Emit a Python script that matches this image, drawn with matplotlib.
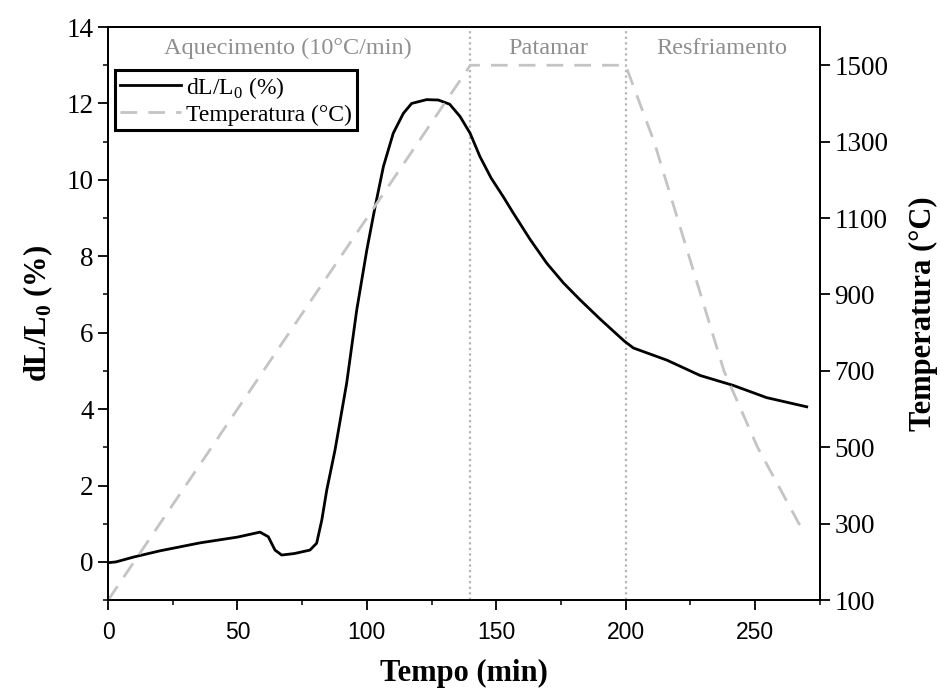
import numpy as np
import matplotlib
matplotlib.use("Agg")
from matplotlib import pyplot as plt
from matplotlib.ticker import MultipleLocator

plt.rcParams['font.family'] = ['Liberation Serif', 'DejaVu Serif']

# dilatometry curve
time_dl = [0, 3, 10, 20, 35.6, 50, 58.7, 61.9, 64.5, 67.1, 72, 78, 80.6, 82.6, 84.5,
           87.7, 92.2, 96.1, 100, 103.2, 106.4, 110.2, 114.1, 117.3, 123.1, 127.6,
           132, 136, 139.9, 143.7, 148, 152.7, 156.6, 163, 169.5, 176, 182.4, 190.1,
           199.5, 203, 216, 228.8, 241.6, 254.5, 270]
dl = [-0.02, 0.0, 0.13, 0.29, 0.5, 0.65, 0.78, 0.66, 0.31, 0.18, 0.22, 0.31, 0.49, 1.1, 1.88,
      2.93, 4.68, 6.6, 8.17, 9.3, 10.35, 11.22, 11.74, 12.0, 12.1, 12.09,
      11.98, 11.66, 11.22, 10.61, 10.05, 9.56, 9.13, 8.45, 7.82, 7.3, 6.86, 6.36,
      5.78, 5.6, 5.28, 4.88, 4.62, 4.3, 4.06]

# temperature program
time_temp = [0, 140, 200, 211, 220, 229, 238, 251, 267, 270]
temp = [100, 1500, 1500, 1300, 1100, 900, 700, 500, 300, 285]

stages = ['Aquecimento (10°C/min)', 'Patamar', 'Resfriamento']
stage_x = [69.5, 170, 237]
stage_limits = [140, 200]

fig = plt.figure(figsize=(9.4, 6.93), dpi=100)
ax1 = fig.add_axes([0.115, 0.134, 0.757, 0.827])

l1, = ax1.plot(time_dl, dl, color='black', lw=2.0, label='dL/L$_\\mathregular{0}$ (%)')
ax1.set_xlim(0, 275)
ax1.set_ylim(-1, 14)
ax1.xaxis.set_major_locator(MultipleLocator(50))
ax1.xaxis.set_minor_locator(MultipleLocator(25))
ax1.yaxis.set_major_locator(MultipleLocator(2))
ax1.yaxis.set_minor_locator(MultipleLocator(1))
ax1.set_xlabel('Tempo (min)', fontsize=22, fontweight='bold', labelpad=11)
ax1.set_ylabel('dL/L$_\\mathregular{0}$ (%)', fontsize=22, fontweight='bold', labelpad=8)
ax1.tick_params(which='major', direction='out', length=7, width=1.3, labelsize=19.5)
ax1.tick_params(which='minor', direction='out', length=3.6, width=1.1)
ax1.tick_params(axis='x', which='major', pad=8)
for lab in ax1.get_xticklabels():
    lab.set_fontfamily(['Liberation Sans', 'DejaVu Sans'])
    lab.set_fontsize(16.5)

for xv in stage_limits:
    ax1.axvline(xv, color='#b4b4b4', lw=1.6, ls=(0, (1, 1.5)), zorder=0)
for name, xv in zip(stages, stage_x):
    ax1.text(xv, 13.45, name, ha='center', va='center', fontsize=17.5, color='#8f8f8f')

ax2 = ax1.twinx()
l2, = ax2.plot(time_temp, temp, color='#c4c4c4', lw=2.0, ls=(0, (6, 4)), label='Temperatura (°C)')
ax2.set_ylim(100, 1600)
ax2.set_yticks([100, 300, 500, 700, 900, 1100, 1300, 1500])
ax2.set_ylabel('Temperatura (°C)', fontsize=22, fontweight='bold', labelpad=15)
ax2.tick_params(which='major', direction='out', length=7, width=1.3, labelsize=19.5)

for ax in (ax1, ax2):
    for s in ax.spines.values():
        s.set_linewidth(1.3)

leg = ax1.legend([l1, l2], [l1.get_label(), l2.get_label()], loc='upper left',
                 bbox_to_anchor=(0.01, 0.925), borderaxespad=0, fontsize=17,
                 fancybox=False, framealpha=1, edgecolor='black',
                 handlelength=2.6, handletextpad=0.2, borderpad=0.2, labelspacing=0.15)
leg.get_frame().set_linewidth(2.2)

plt.savefig('out.png', dpi=100)
